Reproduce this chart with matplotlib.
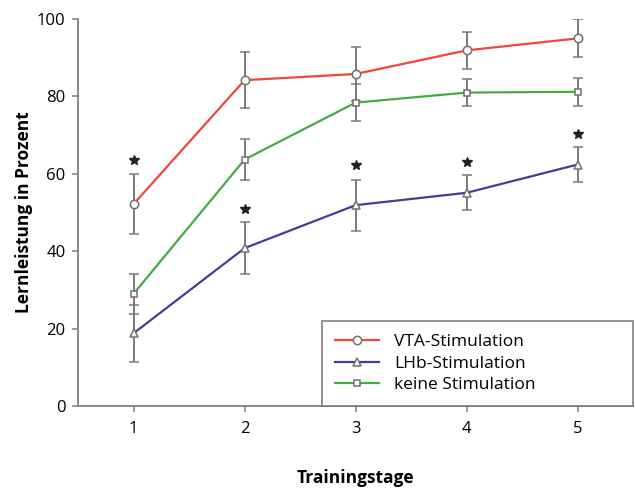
import matplotlib
matplotlib.use("Agg")
import matplotlib.pyplot as plt

plt.rcParams['font.family'] = ['Open Sans', 'DejaVu Sans']

days = [1, 2, 3, 4, 5]
vta = [52.2, 84.2, 85.8, 91.9, 95.0]
vta_err = [7.8, 7.3, 7.0, 4.7, 4.9]
lhb = [18.8, 40.8, 51.9, 55.1, 62.4]
lhb_err = [7.4, 6.7, 6.6, 4.5, 4.6]
keine = [29.0, 63.7, 78.4, 81.0, 81.2]
keine_err = [5.2, 5.2, 4.8, 3.5, 3.6]
star_y = [63.6, 50.8, 62.3, 63.1, 70.4]

fig = plt.figure(figsize=(6.35, 4.88), dpi=100)
ax = fig.add_axes([0.123, 0.168, 0.874, 0.793])

err_kw = dict(ecolor='#7a7a7a', elinewidth=1.4, capsize=3.8, capthick=1.4,
              markerfacecolor='white', markeredgecolor='#707070',
              markeredgewidth=1.1, linewidth=1.6, zorder=3)
e1 = ax.errorbar(days, vta, yerr=vta_err, color='#f0463c', marker='o',
                 markersize=6, **err_kw)
e2 = ax.errorbar(days, lhb, yerr=lhb_err, color='#4a3a98', marker='^',
                 markersize=5.5, **err_kw)
e3 = ax.errorbar(days, keine, yerr=keine_err, color='#3fae3f', marker='s',
                 markersize=4.8, **err_kw)
ax.plot(days, star_y, linestyle='none', marker='*', color='#222222',
        markersize=7.5, zorder=4)

ax.set_xlim(0.5, 5.5)
ax.set_ylim(0, 100)
ax.set_xticks(days)
ax.set_yticks([0, 20, 40, 60, 80, 100])
ax.tick_params(labelsize=12, color='#888888', width=1.2, length=4,
               direction='out', pad=5)
ax.tick_params(axis='x', pad=7)
for s in ['top', 'right']:
    ax.spines[s].set_visible(False)
for s in ['left', 'bottom']:
    ax.spines[s].set_color('#888888')
    ax.spines[s].set_linewidth(1.4)

ax.set_xlabel('Trainingstage', fontsize=12.5, fontweight='bold', labelpad=23)
ax.set_ylabel('Lernleistung in Prozent', fontsize=12.5, fontweight='bold')
ax.yaxis.set_label_coords(-0.081, 0.5)

leg = ax.legend([e1[0], e2[0], e3[0]],
                ['VTA-Stimulation', 'LHb-Stimulation', 'keine Stimulation'],
                loc='lower left', bbox_to_anchor=(0.44, 0.0, 0.56, 0.23),
                mode='expand', borderaxespad=0, fontsize=12.5, fancybox=False,
                handlelength=2.5, labelspacing=0.3, borderpad=0.75,
                handletextpad=0.9)
leg.get_frame().set_edgecolor('#777777')
leg.get_frame().set_linewidth(1.4)

fig.savefig('out.png', dpi=100)
